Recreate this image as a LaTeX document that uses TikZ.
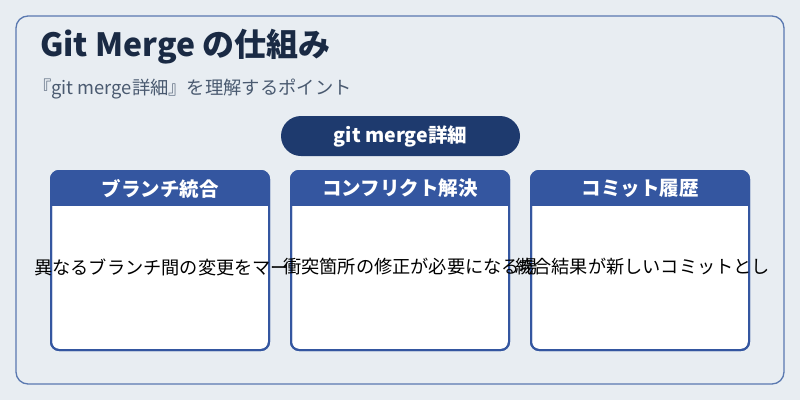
\documentclass[tikz,border=0pt]{standalone}
\usepackage{fontspec}
\setmainfont{Noto Sans CJK JP}
\definecolor{bg}{HTML}{E8EDF2}
\definecolor{frame}{HTML}{5A78B0}
\definecolor{dark}{HTML}{1A2A44}
\definecolor{sub}{HTML}{4A5A70}
\definecolor{pill}{HTML}{1E3A6E}
\definecolor{card}{HTML}{3456A0}
\begin{document}
\begin{tikzpicture}[x=1pt,y=-1pt,
  cardbox/.style={draw=card,line width=2pt,fill=white,rounded corners=8pt},
  cardhead/.style={font=\fontsize{19.5}{22}\selectfont\bfseries,text=white},
  bodytxt/.style={font=\fontsize{18.2}{21}\selectfont,text=black,anchor=west,inner sep=0pt}]
\useasboundingbox (0,0) rectangle (800,400);
\fill[bg] (0,0) rectangle (800,400);
\node[draw=frame,line width=1.3pt,rounded corners=12pt,minimum width=768pt,minimum height=368pt,inner sep=0pt] (outer) at (400,200) {};
\node[anchor=west,font=\fontsize{32}{36}\selectfont\bfseries,text=dark,inner sep=0pt] (title) at (40,47) {Git Merge の仕組み};
\node[anchor=west,font=\fontsize{18.3}{21}\selectfont,text=sub,inner sep=0pt] (subtitle) at (33,89) {『git merge詳細』を理解するポイント};
\node[fill=pill,rounded corners=20pt,minimum width=239pt,minimum height=40pt,text=white,font=\fontsize{19.5}{22}\selectfont\bfseries] (pill) at (400.5,136) {git merge詳細};
\foreach \cx/\h/\n in {160/ブランチ統合/a,400/コンフリクト解決/b,640/コミット履歴/c}{
  \path[cardbox] (\cx-109,171) rectangle (\cx+109,350);
  \begin{scope}
  \clip[rounded corners=8pt] (\cx-109,171) rectangle (\cx+109,350);
  \fill[card] (\cx-109,171) rectangle (\cx+109,206);
  \end{scope}
  \draw[card,line width=2pt,rounded corners=8pt] (\cx-109,171) rectangle (\cx+109,350);
  \node[cardhead] (h\n) at (\cx,188.5) {\h};
}
\node[bodytxt] (t1) at (34,267) {異なるブランチ間の変更をマー};
\node[bodytxt] (t2) at (283,267) {衝突箇所の修正が必要になる場};
\node[bodytxt] (t3) at (515,267) {統合結果が新しいコミットとし};
\end{tikzpicture}
\end{document}
